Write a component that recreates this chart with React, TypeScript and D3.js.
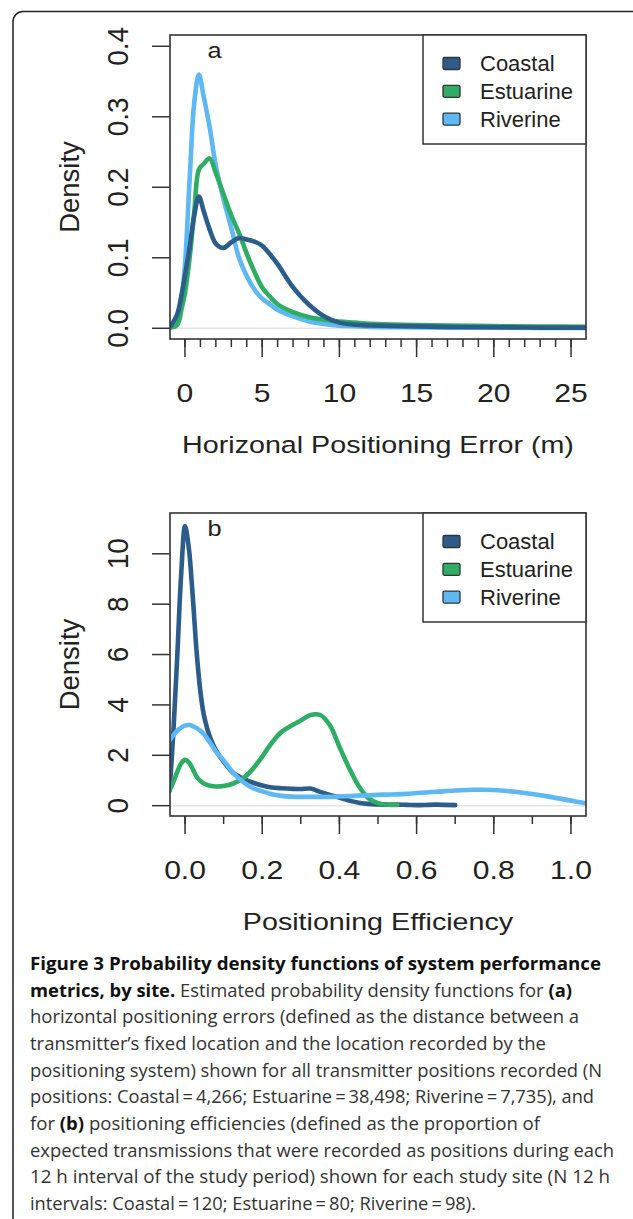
import * as d3 from "d3"

// Sites and their colours
const sites = ["Coastal", "Estuarine", "Riverine"]
const siteColors = ["#2c5d8a", "#30ad65", "#5db8f3"]

// Panel a: horizontal positioning error (m)
const errorX = [-0.9, -0.5, -0.2, 0, 0.3, 0.6, 0.9, 1.2, 1.6, 2, 2.5, 3, 3.5, 4, 4.5, 5, 5.5, 6, 7, 8, 9, 10, 11, 12, 14, 17, 20, 23, 26]
const coastalError = [0.004, 0.02, 0.05, 0.075, 0.115, 0.16, 0.187, 0.167, 0.14, 0.12, 0.114, 0.122, 0.128, 0.126, 0.123, 0.117, 0.105, 0.091, 0.058, 0.034, 0.017, 0.008, 0.005, 0.004, 0.003, 0.002, 0.0015, 0.001, 0.001]
const estuarineError = [0.001, 0.005, 0.03, 0.05, 0.1, 0.165, 0.225, 0.233, 0.241, 0.22, 0.19, 0.16, 0.135, 0.106, 0.08, 0.058, 0.045, 0.034, 0.023, 0.016, 0.012, 0.0095, 0.008, 0.0065, 0.005, 0.004, 0.003, 0.0025, 0.002]
const riverineError = [0.003, 0.012, 0.045, 0.09, 0.21, 0.32, 0.36, 0.33, 0.285, 0.23, 0.183, 0.142, 0.1, 0.074, 0.055, 0.042, 0.034, 0.026, 0.017, 0.01, 0.006, 0.0035, 0.003, 0.002, 0.0015, 0.001, 0.001, 0.0005, 0.0003]
const errorTicks = [0, 5, 10, 15, 20, 25]
const errorDensityTicks = [0, 0.1, 0.2, 0.3, 0.4]

// Panel b: positioning efficiency
const effX = [-0.04, -0.03, -0.02, -0.01, 0, 0.01, 0.02, 0.03, 0.04, 0.05, 0.065, 0.08, 0.1, 0.125, 0.15, 0.175, 0.2, 0.225, 0.25, 0.275, 0.3, 0.325, 0.35, 0.375, 0.4, 0.425, 0.45, 0.475, 0.5, 0.525, 0.55, 0.575, 0.6, 0.65, 0.7, 0.75, 0.8, 0.85, 0.9, 0.95, 1.0, 1.04]
const coastalEff = [0.6, 3.0, 6.0, 9.2, 11.1, 10.2, 8.3, 6.1, 4.5, 3.5, 2.7, 2.2, 1.75, 1.3, 1.08, 0.92, 0.8, 0.72, 0.69, 0.67, 0.66, 0.68, 0.55, 0.43, 0.32, 0.2, 0.12, 0.07, 0.05, 0.04, 0.04, 0.03, 0.02, 0.04, 0.02, null, null, null, null, null, null, null]
const estuarineEff = [0.6, 0.95, 1.35, 1.68, 1.82, 1.72, 1.45, 1.15, 0.98, 0.87, 0.79, 0.76, 0.78, 0.88, 1.08, 1.45, 1.95, 2.5, 2.93, 3.17, 3.38, 3.6, 3.6, 3.2, 2.34, 1.5, 0.78, 0.3, 0.1, 0.04, 0.03, null, null, null, null, null, null, null, null, null, null, null]
const riverineEff = [2.6, 2.8, 2.98, 3.1, 3.18, 3.2, 3.16, 3.08, 2.97, 2.82, 2.5, 2.15, 1.8, 1.3, 0.95, 0.7, 0.57, 0.45, 0.39, 0.36, 0.35, 0.35, 0.35, 0.35, 0.37, 0.38, 0.4, 0.41, 0.43, 0.44, 0.45, 0.47, 0.5, 0.55, 0.6, 0.63, 0.62, 0.56, 0.46, 0.34, 0.2, 0.09]
const effTicks = [0, 0.2, 0.4, 0.6, 0.8, 1.0]
const effDensityTicks = [0, 2, 4, 6, 8, 10]

const FONT = "'Liberation Sans', Arial, Helvetica, sans-serif"
const INK = "#222"
const BOX_LEFT = 170
const BOX_RIGHT = 586

interface PanelProps {
  id: string
  top: number
  bottom: number
  letter: string
  xs: number[]
  series: (number | null)[][]
  order: number[]
  xDomain: [number, number]
  yDomain: [number, number]
  xTicks: number[]
  xMinorStep: number
  yTicks: number[]
  xFormat: (d: number) => string
  yFormat: (d: number) => string
  xTitle: string
}

function Panel(p: PanelProps) {
  const x = d3.scaleLinear().domain(p.xDomain).range([BOX_LEFT, BOX_RIGHT])
  const y = d3.scaleLinear().domain(p.yDomain).range([p.bottom, p.top])
  const minor = d3.range(p.xTicks[0], p.xTicks[p.xTicks.length - 1] + 1e-9, p.xMinorStep)
  const line = d3
    .line<[number, number | null]>()
    .defined((d) => d[1] !== null)
    .x((d) => x(d[0]))
    .y((d) => y(d[1] as number))
    .curve(d3.curveCatmullRom.alpha(0.5))
  const midY = (p.top + p.bottom) / 2
  const midX = (BOX_LEFT + BOX_RIGHT) / 2
  const legTop = p.top
  const legH = 109

  return (
    <g>
      <defs>
        <clipPath id={`clip-${p.id}`}>
          <rect x={BOX_LEFT} y={p.top} width={BOX_RIGHT - BOX_LEFT} height={p.bottom - p.top} />
        </clipPath>
      </defs>
      {/* zero line */}
      <line x1={BOX_LEFT} x2={BOX_RIGHT} y1={y(0)} y2={y(0)} stroke="#e4e4e4" strokeWidth={1.5} />
      <g clipPath={`url(#clip-${p.id})`}>
        {p.order.map((i) => (
          <path
            key={sites[i]}
            d={line(p.xs.map((v, k) => [v, p.series[i][k]] as [number, number | null])) || ""}
            fill="none"
            stroke={siteColors[i]}
            strokeWidth={4.6}
            strokeLinejoin="round"
            strokeLinecap="round"
          />
        ))}
      </g>
      {/* frame */}
      <rect x={BOX_LEFT} y={p.top} width={BOX_RIGHT - BOX_LEFT} height={p.bottom - p.top} fill="none" stroke="#333" strokeWidth={1.6} />
      {/* y axis */}
      {p.yTicks.map((t) => (
        <g key={`y${t}`}>
          <line x1={152} x2={BOX_LEFT} y1={y(t)} y2={y(t)} stroke="#333" strokeWidth={1.5} />
          <text
            transform={`translate(128,${y(t)}) scale(1.04,1) rotate(-90)`}
            textAnchor="middle"
            fontFamily={FONT}
            fontSize={28}
            fill={INK}
          >
            {p.yFormat(t)}
          </text>
        </g>
      ))}
      {/* x axis */}
      {minor.map((t) => (
        <line key={`m${t}`} x1={x(t)} x2={x(t)} y1={p.bottom} y2={p.bottom + 8} stroke="#333" strokeWidth={1.5} />
      ))}
      {p.xTicks.map((t) => (
        <g key={`x${t}`}>
          <line x1={x(t)} x2={x(t)} y1={p.bottom} y2={p.bottom + 18} stroke="#333" strokeWidth={1.5} />
          <text
            transform={`translate(${x(t)},${p.bottom + 63}) scale(1.18,1)`}
            textAnchor="middle"
            fontFamily={FONT}
            fontSize={25.5}
            fill={INK}
          >
            {p.xFormat(t)}
          </text>
        </g>
      ))}
      <text
        transform={`translate(${midX},${p.bottom + 114}) scale(1.22,1)`}
        textAnchor="middle"
        fontFamily={FONT}
        fontSize={23.5}
        fill={INK}
      >
        {p.xTitle}
      </text>
      <text transform={`translate(79,${midY}) rotate(-90)`} textAnchor="middle" fontFamily={FONT} fontSize={27.5} fill={INK}>
        Density
      </text>
      <text
        transform={`translate(214.5,${p.top + 23}) scale(1.15,1)`}
        textAnchor="middle"
        fontFamily={FONT}
        fontSize={22}
        fill={INK}
      >
        {p.letter}
      </text>
      {/* legend */}
      <rect x={423} y={legTop} width={BOX_RIGHT - 423} height={legH} fill="#fff" stroke="#333" strokeWidth={1.5} />
      {sites.map((s, i) => {
        const cy = legTop + 28.5 + i * 27.8
        return (
          <g key={s}>
            <rect x={443} y={cy - 6} width={17} height={12} rx={1.5} fill={siteColors[i]} stroke="#333" strokeWidth={1.3} />
            <text x={480} y={cy + 7.8} fontFamily={FONT} fontSize={22} fill={INK}>
              {s}
            </text>
          </g>
        )
      })}
    </g>
  )
}

type Seg = { t: string; b?: boolean }
const captionLines: { segs: Seg[]; w: number }[] = [
  { segs: [{ t: "Figure 3 Probability density functions of system performance", b: true }], w: 571 },
  {
    segs: [
      { t: "metrics, by site.", b: true },
      { t: " Estimated probability density functions for " },
      { t: "(a)", b: true },
    ],
    w: 542,
  },
  { segs: [{ t: "horizontal positioning errors (defined as the distance between a" }], w: 549 },
  { segs: [{ t: "transmitter\u2019s fixed location and the location recorded by the" }], w: 516 },
  { segs: [{ t: "positioning system) shown for all transmitter positions recorded (N" }], w: 572 },
  { segs: [{ t: "positions: Coastal\u2009=\u20094,266; Estuarine\u2009=\u200938,498; Riverine\u2009=\u20097,735), and" }], w: 564 },
  { segs: [{ t: "for " }, { t: "(b)", b: true }, { t: " positioning efficiencies (defined as the proportion of" }], w: 510 },
  { segs: [{ t: "expected transmissions that were recorded as positions during each" }], w: 584 },
  { segs: [{ t: "12 h interval of the study period) shown for each study site (N 12 h" }], w: 580 },
  { segs: [{ t: "intervals: Coastal\u2009=\u2009120; Estuarine\u2009=\u200980; Riverine\u2009=\u200998)." }], w: 446 },
]

export default function App() {
  const fmt1 = d3.format(".1f")
  return (
    <svg
      width={633}
      height={1219}
      style={{ position: "absolute", left: 0, top: 0, background: "#fff" }}
    >
      <rect x={0} y={0} width={633} height={1219} fill="#fff" />
      <rect x={13} y={11.5} width={640} height={1240} rx={10} fill="none" stroke="#222" strokeWidth={1.5} />
      <Panel
        id="a"
        top={35}
        bottom={339}
        letter="a"
        xs={errorX}
        series={[coastalError, estuarineError, riverineError]}
        order={[2, 1, 0]}
        xDomain={[-0.97, 25.97]}
        yDomain={[-0.0152, 0.416]}
        xTicks={errorTicks}
        xMinorStep={1}
        yTicks={errorDensityTicks}
        xFormat={(d) => String(d)}
        yFormat={fmt1}
        xTitle="Horizonal Positioning Error (m)"
      />
      <Panel
        id="b"
        top={513}
        bottom={816}
        letter="b"
        xs={effX}
        series={[coastalEff, estuarineEff, riverineEff]}
        order={[0, 1, 2]}
        xDomain={[-0.039, 1.039]}
        yDomain={[-0.41, 11.62]}
        xTicks={effTicks}
        xMinorStep={0.1}
        yTicks={effDensityTicks}
        xFormat={fmt1}
        yFormat={(d) => String(d)}
        xTitle="Positioning Efficiency"
      />
      <g fontFamily="'Open Sans', 'Noto Sans', sans-serif" fontSize={18.3}>
        {captionLines.map((ln, i) => (
          <text key={i} x={30} y={970 + i * 26.67} textLength={ln.w} lengthAdjust="spacingAndGlyphs" fill="#333">
            {ln.segs.map((s, k) => (
              <tspan key={k} fontWeight={s.b ? 700 : 400} fill={s.b ? "#111" : "#333"}>
                {s.t}
              </tspan>
            ))}
          </text>
        ))}
      </g>
    </svg>
  )
}
